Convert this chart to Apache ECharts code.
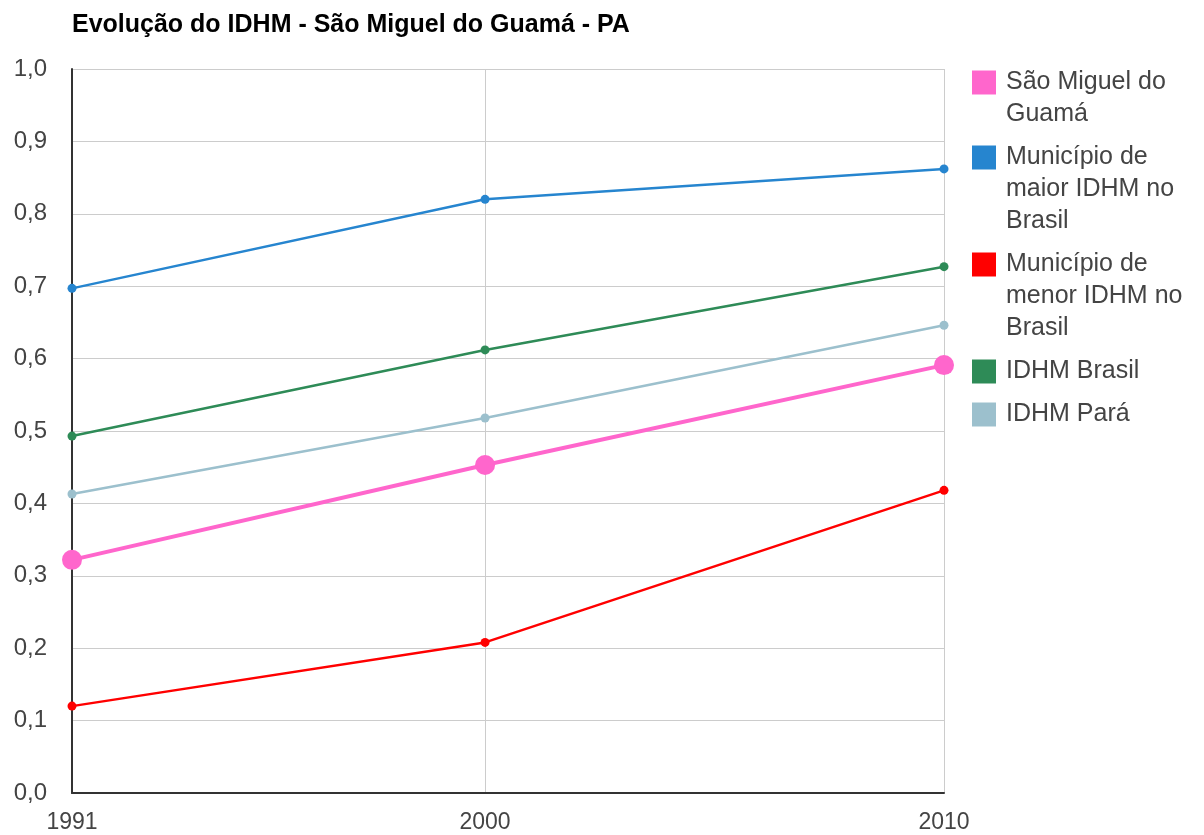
<!DOCTYPE html>
<html>
<head>
<meta charset="utf-8">
<script src="https://cdn.jsdelivr.net/npm/echarts@6/dist/echarts.min.js"></script>
<style>
  html, body { margin: 0; padding: 0; background: #fff; }
  #chart { width: 1204px; height: 835px; }
</style>
</head>
<body>
<div id="chart"></div>
<script>
// dados
var anos = [1991, 2000, 2010];
var saoMiguel = [0.322, 0.453, 0.591];
var maiorIdhm = [0.697, 0.820, 0.862];
var menorIdhm = [0.120, 0.208, 0.418];
var idhmBrasil = [0.493, 0.612, 0.727];
var idhmPara = [0.413, 0.518, 0.646];

var nomes = ['São Miguel do Guamá', 'Município de maior IDHM no Brasil', 'Município de menor IDHM no Brasil', 'IDHM Brasil', 'IDHM Pará'];
var linhasLegenda = [
  ['São Miguel do', 'Guamá'],
  ['Município de', 'maior IDHM no', 'Brasil'],
  ['Município de', 'menor IDHM no', 'Brasil'],
  ['IDHM Brasil'],
  ['IDHM Pará']
];
var cores = ['#ff66cc', '#2685cf', '#ff0000', '#2e8b57', '#9cc0cd'];

var fonte = 'Liberation Sans, Arial, sans-serif';

function pares(vals) {
  return anos.map(function (a, i) { return [a, vals[i]]; });
}

var chart = echarts.init(document.getElementById('chart'));

// rich text: quadrado colorido alinhado à primeira linha
var rich = { t: { fontSize: 25, color: '#444', lineHeight: 32, fontFamily: fonte }, sp: { width: 34 } };
cores.forEach(function (c, i) {
  rich['q' + i] = { backgroundColor: c, width: 24, height: 24 };
  rich['g' + i] = { width: 10 };
});

var option = {
  animation: false,
  title: {
    text: 'Evolução do IDHM - São Miguel do Guamá - PA',
    left: 67,
    top: 8,
    textStyle: { fontSize: 25, fontWeight: 'bold', color: '#000', fontFamily: fonte }
  },
  legend: {
    orient: 'vertical',
    left: 961,
    top: 65,
    itemGap: 18,
    itemWidth: 1,
    itemHeight: 1,
    icon: 'rect',
    itemStyle: { opacity: 0 },
    data: nomes,
    formatter: function (name) {
      var i = nomes.indexOf(name);
      return linhasLegenda[i].map(function (l, k) {
        return (k === 0 ? '{q' + i + '|}{g' + i + '|}' : '{sp|}') + '{t|' + l + '}';
      }).join('\n');
    },
    textStyle: { rich: rich }
  },
  grid: { left: 72, right: 260, top: 69, bottom: 42, containLabel: false },
  xAxis: {
    type: 'value',
    min: 1991,
    max: 2010,
    axisLine: { show: true, lineStyle: { color: '#333', width: 2 } },
    axisTick: { show: false, customValues: anos },
    axisLabel: {
      customValues: anos, fontSize: 23, color: '#444', margin: 18, fontFamily: fonte,
      formatter: function (v) { return String(v); }
    },
    splitLine: { show: true, lineStyle: { color: '#ccc', width: 1 } }
  },
  yAxis: {
    type: 'value',
    min: 0,
    max: 1,
    interval: 0.1,
    axisLine: { show: true, lineStyle: { color: '#333', width: 2 } },
    axisTick: { show: false },
    axisLabel: {
      fontSize: 24, color: '#444', margin: 25, fontFamily: fonte,
      formatter: function (v) { return v.toFixed(1).replace('.', ','); }
    },
    splitLine: { show: true, lineStyle: { color: '#ccc', width: 1 } }
  },
  series: [
    { name: nomes[0], type: 'line', data: pares(saoMiguel), symbol: 'circle', symbolSize: 20, z: 5,
      itemStyle: { color: cores[0] }, lineStyle: { color: cores[0], width: 4 } },
    { name: nomes[1], type: 'line', data: pares(maiorIdhm), symbol: 'circle', symbolSize: 9,
      itemStyle: { color: cores[1] }, lineStyle: { color: cores[1], width: 2.5 } },
    { name: nomes[2], type: 'line', data: pares(menorIdhm), symbol: 'circle', symbolSize: 9,
      itemStyle: { color: cores[2] }, lineStyle: { color: cores[2], width: 2.5 } },
    { name: nomes[3], type: 'line', data: pares(idhmBrasil), symbol: 'circle', symbolSize: 9,
      itemStyle: { color: cores[3] }, lineStyle: { color: cores[3], width: 2.5 } },
    { name: nomes[4], type: 'line', data: pares(idhmPara), symbol: 'circle', symbolSize: 9,
      itemStyle: { color: cores[4] }, lineStyle: { color: cores[4], width: 2.5 } }
  ]
};
chart.setOption(option);
</script>
</body>
</html>
